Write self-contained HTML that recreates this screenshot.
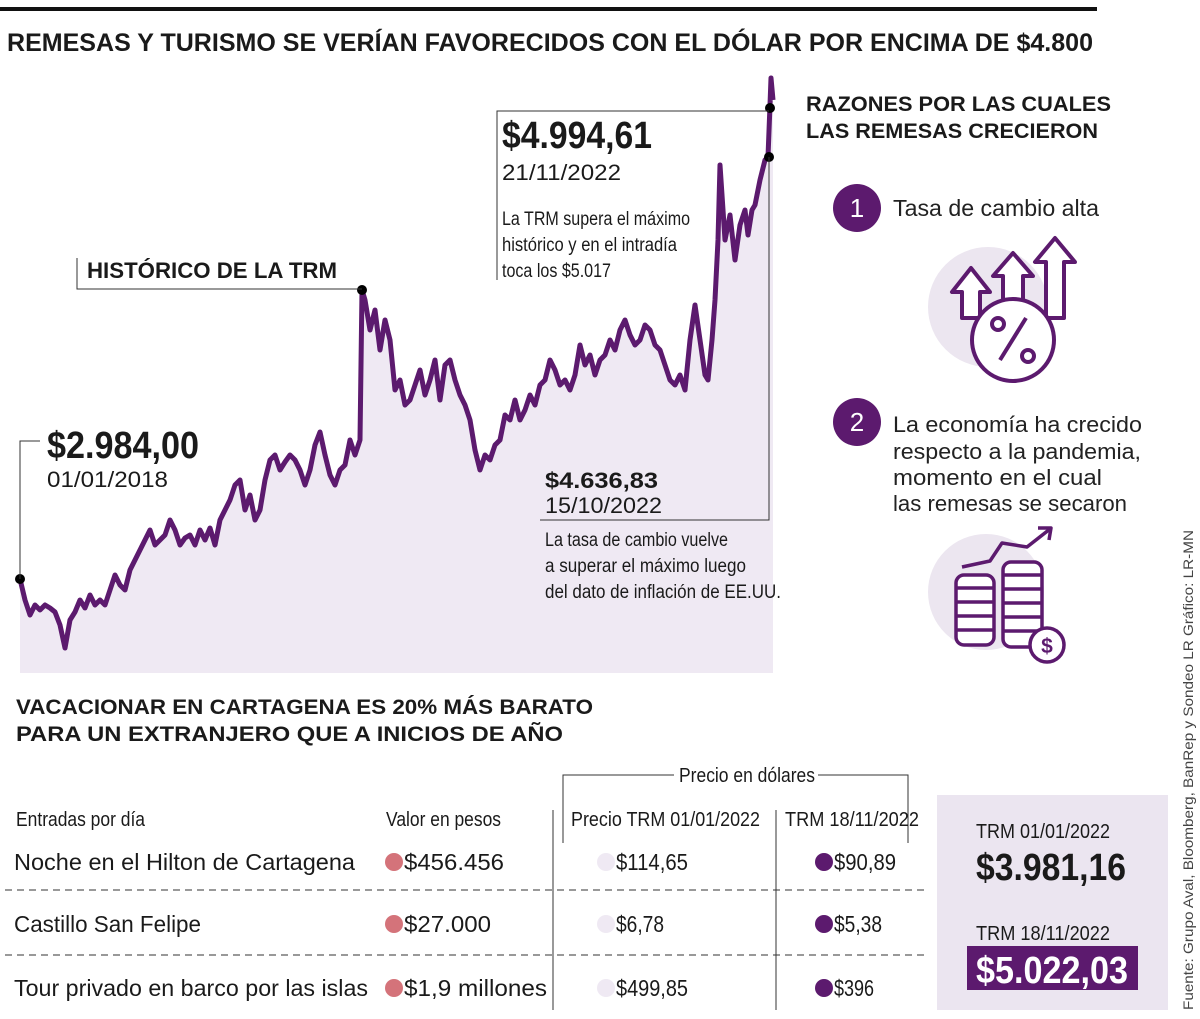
<!DOCTYPE html>
<html><head><meta charset="utf-8"><style>
body{margin:0;background:#fff}
svg{display:block}
text{font-family:"Liberation Sans Narrow","Liberation Sans",sans-serif;fill:#1a1a1a}
.b{font-weight:bold}
.w{font-family:"Liberation Sans",sans-serif}
</style></head><body>
<svg id="s" width="1200" height="1019" viewBox="0 0 1200 1019" xmlns="http://www.w3.org/2000/svg">
<rect x="0" y="7" width="1097" height="4" fill="#111"/>
<text x="7" y="51" class="b w" font-size="25" textLength="1086" lengthAdjust="spacingAndGlyphs">REMESAS Y TURISMO SE VERÍAN FAVORECIDOS CON EL DÓLAR POR ENCIMA DE $4.800</text>

<g id="chart"></g>

<g stroke="#333" stroke-width="1" fill="none">
<polyline points="20,579 20,441 40,441"/>
<polyline points="77,258 77,289 362,289"/>
<polyline points="497,280 497,111 769,111"/>
<polyline points="769,157 769,520 540,520"/>
</g>
<text x="47" y="458" class="b" font-size="38" textLength="152" lengthAdjust="spacingAndGlyphs">$2.984,00</text>
<text x="47" y="487" font-size="22" textLength="121" lengthAdjust="spacingAndGlyphs">01/01/2018</text>
<text x="87" y="278" class="b" font-size="22" textLength="250" lengthAdjust="spacingAndGlyphs">HISTÓRICO DE LA TRM</text>
<text x="502" y="148" class="b" font-size="38" textLength="150" lengthAdjust="spacingAndGlyphs">$4.994,61</text>
<text x="502" y="180" font-size="22" textLength="119" lengthAdjust="spacingAndGlyphs">21/11/2022</text>
<g font-size="19">
<text x="502" y="225" textLength="188" lengthAdjust="spacingAndGlyphs">La TRM supera el máximo</text>
<text x="502" y="251" textLength="175" lengthAdjust="spacingAndGlyphs">histórico y en el intradía</text>
<text x="502" y="277" textLength="109" lengthAdjust="spacingAndGlyphs">toca los $5.017</text>
</g>
<text x="545" y="488" class="b" font-size="22" textLength="113" lengthAdjust="spacingAndGlyphs">$4.636,83</text>
<text x="545" y="513" font-size="22" textLength="117" lengthAdjust="spacingAndGlyphs">15/10/2022</text>
<g font-size="19">
<text x="545" y="546" textLength="183" lengthAdjust="spacingAndGlyphs">La tasa de cambio vuelve</text>
<text x="545" y="572" textLength="201" lengthAdjust="spacingAndGlyphs">a superar el máximo luego</text>
<text x="545" y="598" textLength="236" lengthAdjust="spacingAndGlyphs">del dato de inflación de EE.UU.</text>
</g>

<g class="b w" font-size="21">
<text x="806" y="111" class="b w" textLength="305" lengthAdjust="spacingAndGlyphs">RAZONES POR LAS CUALES</text>
<text x="806" y="138" class="b w" textLength="292" lengthAdjust="spacingAndGlyphs">LAS REMESAS CRECIERON</text>
</g>
<circle cx="857" cy="208" r="24" fill="#5c1a6e"/>
<text x="857" y="217" text-anchor="middle" font-size="26" class="w" style="fill:#fff">1</text>
<text x="893" y="216" font-size="23" class="w" textLength="206" lengthAdjust="spacingAndGlyphs" style="fill:#222">Tasa de cambio alta</text>
<g fill="none" stroke="#5c1a6e" stroke-width="4" stroke-linejoin="round">
<circle cx="988" cy="307" r="60" fill="#ece6f0" stroke="none"/>
<polygon points="971,268 952,292 962,292 962,318 980,318 980,292 990,292" fill="#fff"/>
<polygon points="1013,253 993,276 1003,276 1003,300 1023,300 1023,276 1033,276" fill="#fff"/>
<polygon points="1055,238 1035,262 1046,262 1046,318 1064,318 1064,262 1075,262" fill="#fff"/>
<circle cx="1013" cy="340" r="41" fill="#fff"/>
<line x1="1000" y1="360" x2="1026" y2="318"/>
<circle cx="998" cy="324" r="6"/><circle cx="1028" cy="356" r="6"/>
</g>
<circle cx="857" cy="422" r="24" fill="#5c1a6e"/>
<text x="857" y="431" text-anchor="middle" font-size="26" class="w" style="fill:#fff">2</text>
<g font-size="22.5" class="w">
<text x="893" y="432" class="w" textLength="249" lengthAdjust="spacingAndGlyphs" style="fill:#222">La economía ha crecido</text>
<text x="893" y="459" class="w" textLength="248" lengthAdjust="spacingAndGlyphs" style="fill:#222">respecto a la pandemia,</text>
<text x="893" y="485" class="w" textLength="209" lengthAdjust="spacingAndGlyphs" style="fill:#222">momento en el cual</text>
<text x="893" y="511" class="w" textLength="234" lengthAdjust="spacingAndGlyphs" style="fill:#222">las remesas se secaron</text>
</g>
<g fill="none" stroke="#5c1a6e" stroke-width="3.5" stroke-linejoin="round">
<circle cx="986" cy="592" r="58" fill="#ece6f0" stroke="none"/>
<polyline points="962,567 990,561 1002,543 1027,547 1050,529"/>
<polyline points="1038,528 1051,528 1049,540"/>
<rect x="956" y="575" width="38" height="70" rx="8" fill="#fff"/>
<line x1="956" y1="588" x2="994" y2="588"/><line x1="956" y1="602" x2="994" y2="602"/><line x1="956" y1="616" x2="994" y2="616"/><line x1="956" y1="630" x2="994" y2="630"/>
<rect x="1003" y="562" width="39" height="85" rx="8" fill="#fff"/>
<line x1="1003" y1="575" x2="1042" y2="575"/><line x1="1003" y1="589" x2="1042" y2="589"/><line x1="1003" y1="603" x2="1042" y2="603"/><line x1="1003" y1="617" x2="1042" y2="617"/><line x1="1003" y1="631" x2="1042" y2="631"/>
<circle cx="1047" cy="645" r="17" fill="#fff"/>
<text x="1047" y="653" text-anchor="middle" font-size="21" class="w b" style="fill:#5c1a6e;stroke:none">$</text>
</g>
<text transform="translate(1193,1010) rotate(-90)" font-size="14" class="w" textLength="480" lengthAdjust="spacingAndGlyphs" style="fill:#444">Fuente: Grupo Aval, Bloomberg, BanRep y Sondeo LR     Gráfico: LR-MN</text>

<g>
<text x="16" y="714" class="b w" font-size="21" textLength="577" lengthAdjust="spacingAndGlyphs">VACACIONAR EN CARTAGENA ES 20% MÁS BARATO</text>
<text x="16" y="741" class="b w" font-size="21" textLength="547" lengthAdjust="spacingAndGlyphs">PARA UN EXTRANJERO QUE A INICIOS DE AÑO</text>
</g>
<g stroke="#333" stroke-width="1" fill="none">
<polyline points="563,843 563,775 674,775"/><polyline points="818,775 908,775 908,843"/>
<line x1="553" y1="810" x2="553" y2="1010"/><line x1="776" y1="810" x2="776" y2="1010"/>
<line x1="5" y1="890" x2="928" y2="890" stroke-dasharray="7,5"/>
<line x1="5" y1="955" x2="928" y2="955" stroke-dasharray="7,5"/>
</g>
<text x="679" y="782" font-size="20" textLength="136" lengthAdjust="spacingAndGlyphs">Precio en dólares</text>
<g font-size="20">
<text x="16" y="826" textLength="129" lengthAdjust="spacingAndGlyphs">Entradas por día</text>
<text x="386" y="826" textLength="115" lengthAdjust="spacingAndGlyphs">Valor en pesos</text>
<text x="571" y="826" textLength="189" lengthAdjust="spacingAndGlyphs">Precio TRM 01/01/2022</text>
<text x="785" y="826" textLength="134" lengthAdjust="spacingAndGlyphs">TRM 18/11/2022</text>
</g>
<g font-size="23">
<text x="14" y="870" textLength="341" lengthAdjust="spacingAndGlyphs">Noche en el Hilton de Cartagena</text>
<text x="14" y="932" textLength="187" lengthAdjust="spacingAndGlyphs">Castillo San Felipe</text>
<text x="14" y="996" textLength="354" lengthAdjust="spacingAndGlyphs">Tour privado en barco por las islas</text>
<circle cx="394" cy="862" r="9" fill="#d4737a"/><circle cx="394" cy="924" r="9" fill="#d4737a"/><circle cx="394" cy="988" r="9" fill="#d4737a"/>
<text x="404" y="870" textLength="100" lengthAdjust="spacingAndGlyphs">$456.456</text>
<text x="404" y="932" textLength="87" lengthAdjust="spacingAndGlyphs">$27.000</text>
<text x="404" y="996" textLength="143" lengthAdjust="spacingAndGlyphs">$1,9 millones</text>
<circle cx="606" cy="862" r="9" fill="#efe9f3"/><circle cx="606" cy="924" r="9" fill="#efe9f3"/><circle cx="606" cy="988" r="9" fill="#efe9f3"/>
<text x="616" y="870" textLength="72" lengthAdjust="spacingAndGlyphs">$114,65</text>
<text x="616" y="932" textLength="48" lengthAdjust="spacingAndGlyphs">$6,78</text>
<text x="616" y="996" textLength="72" lengthAdjust="spacingAndGlyphs">$499,85</text>
<circle cx="824" cy="862" r="9" fill="#5c1a6e"/><circle cx="824" cy="924" r="9" fill="#5c1a6e"/><circle cx="824" cy="988" r="9" fill="#5c1a6e"/>
<text x="834" y="870" textLength="62" lengthAdjust="spacingAndGlyphs">$90,89</text>
<text x="834" y="932" textLength="48" lengthAdjust="spacingAndGlyphs">$5,38</text>
<text x="834" y="996" textLength="40" lengthAdjust="spacingAndGlyphs">$396</text>
</g>
<rect x="937" y="795" width="231" height="215" fill="#ebe5f0"/>
<text x="976" y="838" font-size="20" textLength="134" lengthAdjust="spacingAndGlyphs">TRM 01/01/2022</text>
<text x="976" y="880" class="b" font-size="38" textLength="150" lengthAdjust="spacingAndGlyphs">$3.981,16</text>
<text x="976" y="940" font-size="20" textLength="134" lengthAdjust="spacingAndGlyphs">TRM 18/11/2022</text>
<rect x="967" y="946" width="171" height="44" fill="#5c1a6e"/>
<text x="976" y="983" class="b" font-size="38" textLength="152" lengthAdjust="spacingAndGlyphs" style="fill:#fff">$5.022,03</text>
</svg>
<script>
const idx=[0,5,10,15,20,25,30,35,40,45,50,55,60,65,70,75,80,85,90,95,100,105,110,115,120,125,130,135,140,145,150,155,160,165,170,175,180,185,190,195,200,205,210,215,220,225,230,235,240,245,250,255,260,265,270,275,280,285,290,295,300,305,310,315,320,325,330,335,340,342,345,350,355,360,365,370,375,380,385,390,395,400,405,410,415,420,425,430,435,440,445,450,455,460,465,470,475,480,485,490,495,500,505,510,515,520,525,530,535,540,545,550,555,560,565,570,575,580,585,590,595,600,605,610,615,620,625,630,635,640,645,650,655,660,665,670,675,680,685,688,692,695,698,700,705,710,715,720,725,728,732,735,740,745,748,750,751,753];
const trm=[2984,2900,2840,2880,2860,2880,2868,2852,2800,2708,2820,2852,2900,2868,2920,2880,2900,2880,2940,3000,2960,2940,3020,3060,3100,3140,3180,3120,3140,3160,3220,3180,3120,3148,3160,3120,3180,3140,3188,3120,3220,3260,3300,3360,3380,3260,3320,3220,3260,3380,3460,3480,3420,3452,3480,3460,3420,3360,3420,3520,3572,3480,3400,3360,3420,3440,3540,3480,3540,4140,4100,3980,4060,3900,4020,3940,3740,3780,3680,3700,3760,3820,3720,3780,3860,3700,3840,3860,3780,3720,3680,3620,3500,3420,3480,3460,3520,3540,3640,3620,3700,3620,3660,3720,3680,3760,3780,3860,3820,3760,3780,3740,3800,3920,3840,3880,3800,3860,3880,3940,3900,3980,4020,3960,3920,3940,4000,3980,3920,3900,3840,3780,3760,3800,3740,3940,4080,3940,3800,3780,3940,4100,4340,4640,4340,4440,4260,4400,4460,4360,4460,4480,4580,4660,4672,4880,4988,4900];
const markers=[2984,4140,4868,4672];
const markerIdx=[0,342,750,749];
const X=i=>20+i, Y=v=>579-(v-2984)/4, BASE=673;
const NS='http://www.w3.org/2000/svg';
const g=document.getElementById('chart');
let d='M'+X(idx[0])+','+BASE;
idx.forEach((t,k)=>{d+=' L'+X(t)+','+Y(trm[k]).toFixed(1);});
d+=' L'+X(idx[idx.length-1])+','+BASE+' Z';
const area=document.createElementNS(NS,'path');
area.setAttribute('d',d);area.setAttribute('fill','#efe9f3');


g.appendChild(area);
const line=document.createElementNS(NS,'polyline');
line.setAttribute('points',idx.map((t,k)=>X(t)+','+Y(trm[k]).toFixed(1)).join(' '));
line.setAttribute('fill','none');line.setAttribute('stroke','#5c1a6e');line.setAttribute('stroke-width','5');line.setAttribute('stroke-linejoin','round');


g.appendChild(line);
markers.forEach((v,k)=>{
 const c=document.createElementNS(NS,'circle');
 c.setAttribute('cx',X(markerIdx[k]));c.setAttribute('cy',Y(v));c.setAttribute('r','5');c.setAttribute('fill','#000');
 
 
 g.appendChild(c);
});
</script>
</body></html>
